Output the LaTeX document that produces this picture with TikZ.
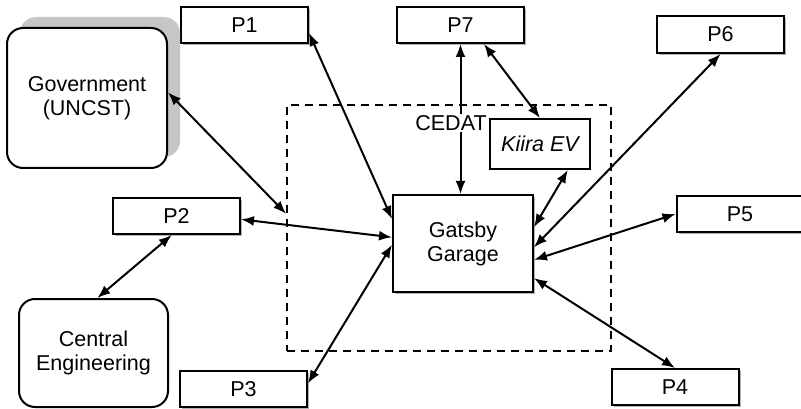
\documentclass[tikz,border=0pt]{standalone}
\usepackage{fontspec}
\setmainfont{Liberation Sans}
\usepackage{tikz}
\usetikzlibrary{shapes.geometric, arrows.meta, shadows}
\tikzstyle{party} = [rectangle, minimum width=127pt, minimum height=36pt, text centered, draw=black, line width=2pt, fill=white, drop shadow={shadow xshift=2pt, shadow yshift=-2pt, fill=gray!60, opacity=1}]
\tikzstyle{agency} = [rectangle, rounded corners=16pt, text centered, draw=black, line width=2pt, fill=white, align=center]
\tikzstyle{hub} = [rectangle, text centered, draw=black, line width=2pt, fill=white, align=center, drop shadow={shadow xshift=2pt, shadow yshift=-2pt, fill=gray!60, opacity=1}]
\tikzstyle{arrow} = [line width=2pt, {Latex[length=13pt,width=10pt]}-{Latex[length=13pt,width=10pt]}]

\begin{document}
\begin{tikzpicture}[x=1pt, y=-1pt, font=\fontsize{21.5}{24}\selectfont]
\useasboundingbox (0,0) rectangle (801,409);
% CEDAT boundary
\node (cedat) [rectangle, dashed, dash pattern=on 8pt off 6pt, line width=1.8pt, draw=black, minimum width=324pt, minimum height=246pt] at (449,228) {};
% partners
\node (p1) [party] at (244.5,25) {P1};
\node (p7) [party] at (460.5,25) {P7};
\node (p6) [party, minimum height=37pt] at (720.5,34.5) {P6};
\node (p2) [party] at (176.5,216) {P2};
\node (p5) [party] at (740,214) {P5};
\node (p3) [party] at (243.5,389) {P3};
\node (p4) [party] at (675,387) {P4};
\node (gov) [agency, minimum width=160pt, minimum height=140pt, drop shadow={shadow xshift=13pt, shadow yshift=11pt, fill=gray!45, opacity=1}] at (87,98) {Government\\(UNCST)};
\node (cen) [agency, minimum width=149pt, minimum height=108pt] at (93.5,353) {Central\\Engineering};
\node (gat) [hub, minimum width=140pt, minimum height=97pt] at (463,243.5) {Gatsby\\Garage};
\node (kiira) [rectangle, draw=black, line width=2pt, fill=white, minimum width=100pt, minimum height=50pt] at (540,144) {\itshape Kiira EV};

\draw [arrow] (gov.4) -- (cedat.175);
\draw [arrow] (p1.353) -- (gat.161);
\draw [arrow] (p2.357) -- (gat.175);
\draw [arrow] (p3.5) -- (gat.181);
\draw [arrow] (p2.256) -- (cen.86);
\draw [arrow] (p7.south) -- (p7.south |- gat.north);
\draw [arrow] (p7.321) -- (kiira.north);
\draw [arrow] (kiira.317) -- (gat.13);
\draw [arrow] (p6.south) -- (gat.357);
\draw [arrow] (p5.west) -- (gat.347);
\draw [arrow] (p4.north) -- (gat.334);
\node (lab) [fill=white, inner sep=1pt] at (451,123) {CEDAT};
\end{tikzpicture}
\end{document}
